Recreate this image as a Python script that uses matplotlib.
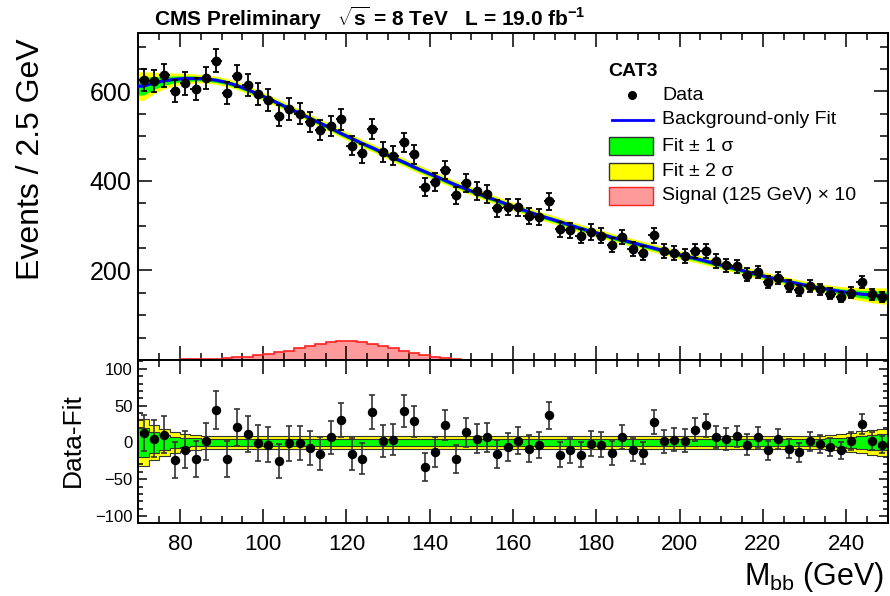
import numpy as np
import matplotlib
matplotlib.use('Agg')
import matplotlib.pyplot as plt
from matplotlib.ticker import MultipleLocator, FixedLocator
from matplotlib.patches import Rectangle
from matplotlib.lines import Line2D

plt.rcParams['font.family'] = ['Liberation Sans', 'DejaVu Sans']
plt.rcParams['mathtext.fontset'] = 'custom'
plt.rcParams['mathtext.rm'] = 'Liberation Sans'
plt.rcParams['mathtext.it'] = 'Liberation Sans:italic'
plt.rcParams['mathtext.bf'] = 'Liberation Sans:bold'

# ---------------- data ----------------
mass_min, mass_max, bin_width = 70.0, 250.0, 2.5

data_counts = [626, 624, 636, 602, 618, 606, 630, 669, 597, 635,
               615, 594, 581, 546, 561, 550, 532, 514, 523, 538,
               479, 462, 516, 465, 456, 486, 460, 386, 398, 424,
               368, 396, 378, 371, 339, 342, 341, 321, 320, 355,
               292, 290, 277, 286, 278, 257, 275, 249, 240, 279,
               244, 239, 232, 244, 244, 221, 212, 209, 191, 197,
               174, 184, 165, 156, 165, 158, 148, 141, 150, 174,
               147, 141]

fit_values = [612, 619, 624, 627, 629, 629, 628, 625, 620, 613,
              604, 594, 584, 573, 562, 551, 540, 529, 518, 506,
              495, 484, 474, 463, 452, 442, 431, 421, 411, 401,
              391, 382, 373, 364, 356, 347, 339, 331, 323, 316,
              309, 301, 294, 287, 281, 274, 268, 262, 256, 250,
              244, 238, 232, 227, 221, 215, 209, 203, 197, 191,
              185, 180, 175, 170, 165, 161, 157, 153, 150, 147,
              145, 143]

residuals = [12.7, 5.0, 10.4, -24.4, -9.9, -22.5, 1.4, 43.4, -22.0, 20.8,
             11.4, -0.9, -3.2, -25.7, -1.0, -1.0, -7.6, -15.3, 6.8, 30.8,
             -15.8, -22.0, 41.2, 2.3, 3.7, 43.0, 28.5, -33.4, -13.0, 24.0,
             -22.5, 13.6, 5.0, 6.8, -15.8, -6.3, 2.3, -8.5, -3.1, 36.6,
             -16.7, -10.8, -16.7, -1.8, -3.1, -14.4, 7.0, -9.9, -14.4, 27.6,
             1.4, 3.7, 2.3, 17.2, 23.0, 7.3, 4.6, 8.1, -3.1, 6.8,
             -10.8, 4.6, -8.5, -13.5, 1.4, -2.2, -6.3, -10.8, 1.4, 24.9,
             1.9, -3.1]

band_1sigma = [20, 14, 10, 7.5, 6, 5.5, 5, 5, 5, 5,
               5, 5, 5, 5, 5, 5, 5, 5, 5, 5,
               5, 5, 5, 5, 5, 5, 5, 5, 5, 5,
               5, 5, 5, 5, 5, 5, 5, 5, 5, 5,
               5, 5, 5, 5, 5, 5, 5, 5, 5, 5,
               5, 5, 5, 5, 5, 5, 5, 5, 5, 5,
               5, 5, 5, 5, 5, 5, 5.5, 6, 7, 8.5,
               10, 11]

band_2sigma = [32, 24, 18, 14, 11.5, 10, 9, 9, 9, 9,
               9, 9, 9, 9, 9, 9, 9, 9, 9, 9,
               9, 9, 9, 9, 9, 9, 9, 9, 9, 9,
               9, 9, 9, 9, 9, 9, 9, 9, 9, 9,
               9, 9, 9, 9, 9, 9, 9, 9, 9, 9,
               9, 9, 9, 9, 9, 9, 9, 9, 9, 9,
               9, 9, 9, 9, 9, 9, 10, 11, 13, 15,
               17, 18]

signal_x10 = [0, 0, 0.3, 0.6, 1.2, 1.6, 2.2, 3.0, 4.5, 6.0,
              7.5, 10.4, 13.4, 17, 21, 26, 31, 36, 40, 42.5,
              42.5, 39.5, 36, 31, 26, 21, 15, 11, 7, 4,
              2, 1, 0, 0, 0, 0, 0, 0, 0, 0,
              0, 0, 0, 0, 0, 0, 0, 0, 0, 0,
              0, 0, 0, 0, 0, 0, 0, 0, 0, 0,
              0, 0, 0, 0, 0, 0, 0, 0, 0, 0,
              0, 0]

x_major_ticks = [80, 100, 120, 140, 160, 180, 200, 220, 240]
top_y_ticks = [200, 400, 600]
bottom_y_ticks = [-100, -50, 0, 50, 100]

# ---------------- derived ----------------
edges = np.arange(mass_min, mass_max + bin_width / 2, bin_width)
centers = edges[:-1] + bin_width / 2
data = np.array(data_counts, float)
fit = np.array(fit_values, float)
res = np.array(residuals, float)
b1 = np.array(band_1sigma, float)
b2 = np.array(band_2sigma, float)
sig = np.array(signal_x10, float)
err = np.sqrt(data)

# extend curves to the frame edges (hold end values)
xs = np.concatenate([[mass_min], centers, [mass_max]])
fit_e = np.concatenate([[fit[0]], fit, [fit[-1]]])
b1_e = np.concatenate([[b1[0]], b1, [b1[-1]]])
b2_e = np.concatenate([[b2[0]], b2, [b2[-1]]])

W, H = 890, 596
fig = plt.figure(figsize=(W / 100, H / 100), dpi=100)
L, R = 138.3, 887.7
ax1 = fig.add_axes([L / W, 1 - 360 / H, (R - L) / W, (360 - 33.3) / H])
ax2 = fig.add_axes([L / W, 1 - 523.3 / H, (R - L) / W, (523.3 - 360) / H])

GREEN = '#00ff00'
YELLOW = '#ffff00'
BLUE = '#0000ff'

# ---------------- top panel ----------------
ax1.fill_between(xs, fit_e - b2_e, fit_e + b2_e, color=YELLOW, lw=0, zorder=1)
ax1.fill_between(xs, fit_e - b1_e, fit_e + b1_e, color=GREEN, lw=0, zorder=2)
ax1.plot(xs, fit_e, color=BLUE, lw=2.3, zorder=3)
ax1.stairs(sig, edges, fill=True, color='#ff9a9a', zorder=1.5)
ax1.stairs(sig, edges, color='#ff2020', lw=1.2, zorder=1.6)
ax1.errorbar(centers, data, xerr=bin_width / 2, fmt='none', ecolor='k',
             elinewidth=1.3, capsize=0, zorder=4)
ax1.errorbar(centers, data, yerr=err, fmt='o', color='k', ms=6,
             elinewidth=1.3, capsize=2.2, capthick=1.3, zorder=5)

ax1.set_xlim(mass_min, mass_max)
ax1.set_ylim(0, 730)
ax1.xaxis.set_major_locator(FixedLocator(x_major_ticks))
ax1.xaxis.set_minor_locator(MultipleLocator(5))
ax1.yaxis.set_major_locator(FixedLocator(top_y_ticks))
ax1.yaxis.set_minor_locator(MultipleLocator(50))
ax1.tick_params(axis='both', which='both', direction='in', top=True, right=True,
                width=1.1, labelbottom=False)
ax1.tick_params(axis='x', which='major', length=10)
ax1.tick_params(axis='x', which='minor', length=5)
ax1.tick_params(axis='y', which='major', length=10, labelsize=18, pad=5)
ax1.tick_params(axis='y', which='minor', length=5.5)
ax1.set_ylabel('Events / 2.5 GeV', fontsize=23)
ax1.yaxis.set_label_coords(-0.123, 0.615)

# ---------------- bottom panel ----------------
ax2.stairs(b2, edges, baseline=-b2, fill=True, color=YELLOW, zorder=1)
ax2.stairs(b1, edges, baseline=-b1, fill=True, color=GREEN, zorder=2)
for v in (b2, -b2, b1, -b1):
    ax2.stairs(v, edges, color='#333333', lw=0.8, zorder=2.5, baseline=None)
ax2.errorbar(centers, res, yerr=err, fmt='o', color='k', ms=5.8,
             elinewidth=1.2, capsize=2.2, capthick=1.2, ecolor='#333333', zorder=5)

ax2.set_xlim(mass_min, mass_max)
ax2.set_ylim(-110, 112)
ax2.xaxis.set_major_locator(FixedLocator(x_major_ticks))
ax2.xaxis.set_minor_locator(MultipleLocator(5))
ax2.yaxis.set_major_locator(FixedLocator(bottom_y_ticks))
ax2.yaxis.set_minor_locator(MultipleLocator(10))
ax2.tick_params(axis='both', which='both', direction='in', top=True, right=True, width=1.1)
ax2.tick_params(axis='x', which='major', length=10, labelsize=16, pad=8)
ax2.tick_params(axis='x', which='minor', length=5)
ax2.tick_params(axis='y', which='major', length=6.5, labelsize=12, pad=4)
ax2.tick_params(axis='y', which='minor', length=3.6)
ax2.set_ylabel('Data-Fit', fontsize=19)
ax2.yaxis.set_label_coords(-0.071, 0.51)

for ax in (ax1, ax2):
    for s in ax.spines.values():
        s.set_linewidth(1.4)

# ---------------- texts ----------------
fig.text(0.994, 1 - 585 / H, r'M$_{\rm bb}$ (GeV)', ha='right', va='baseline', fontsize=22)
fig.text(370 / W, 1 - 18 / H,
         r'CMS Preliminary   $\sqrt{\mathbf{s}}$ = 8 TeV   L = 19.0 fb$^{\mathbf{-1}}$',
         ha='center', va='center', fontsize=15, fontweight='bold')

# ---------------- legend (manual) ----------------
def fx(x):
    return x / W

def fy(y):
    return 1 - y / H

fs = 14
fig.text(fx(608), fy(72), 'CAT3', fontsize=fs, fontweight='bold', va='center', ha='left')
tx = 662
fig.add_artist(Line2D([fx(631.7)], [fy(95)], marker='o', color='k', ms=5.5,
                      transform=fig.transFigure))
fig.text(fx(tx), fy(95), 'Data', fontsize=fs, va='center')
fig.add_artist(Line2D([fx(611.7), fx(652.7)], [fy(120), fy(120)], color=BLUE, lw=2,
                      transform=fig.transFigure))
fig.text(fx(tx), fy(120), 'Background-only Fit', fontsize=fs, va='center')
boxes = [(137.3, 155, GREEN, '#333333', 'Fit \u00b1 1 \u03c3'),
         (162.7, 180, YELLOW, '#333333', 'Fit \u00b1 2 \u03c3'),
         (186.7, 205, '#ff9a9a', '#ff2020', 'Signal (125 GeV) \u00d7 10')]
for y0, y1, fc, ec, lab in boxes:
    fig.add_artist(Rectangle((fx(609.3), fy(y1)), fx(653.3) - fx(609.3), fy(y0) - fy(y1),
                             facecolor=fc, edgecolor=ec, lw=1.0, transform=fig.transFigure))
    fig.text(fx(tx), fy((y0 + y1) / 2), lab, fontsize=fs, va='center')

fig.savefig('out.png', dpi=100)
